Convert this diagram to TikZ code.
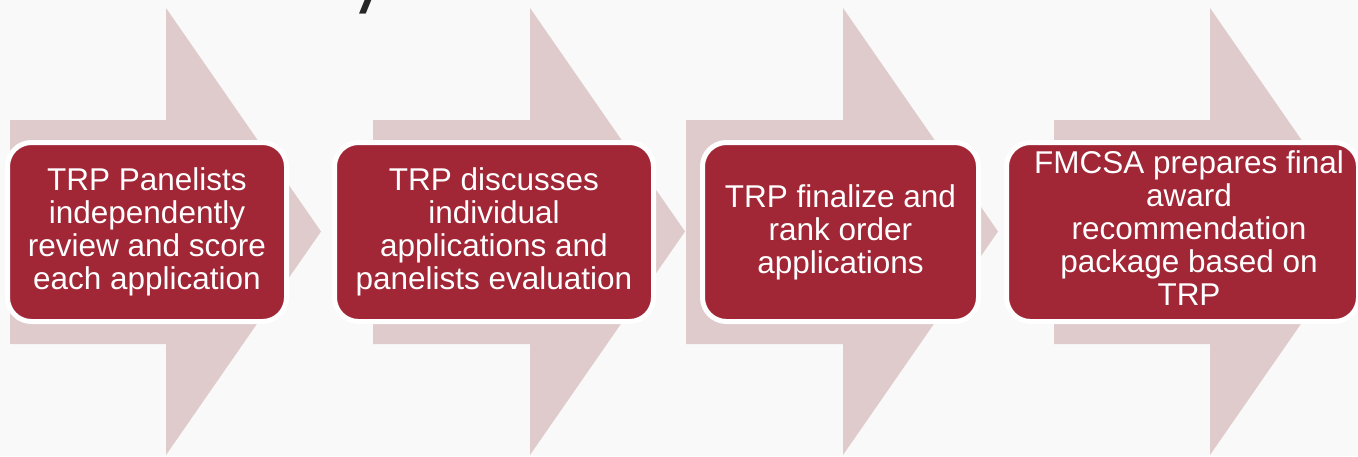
\documentclass[tikz,border=0pt]{standalone}
\usepackage{fontspec}
\setmainfont{Liberation Sans}
\newfontfamily\titlefont{Poppins}
\definecolor{bg}{RGB}{249,249,249}
\definecolor{arrowpink}{RGB}{223,203,204}
\definecolor{boxred}{RGB}{161,38,54}
\definecolor{titlegray}{RGB}{38,38,38}
\tikzset{
  bigarrow/.style={fill=arrowpink, draw=none},
  stepbox/.style={rectangle, rounded corners=24pt, fill=boxred, draw=white, line width=5pt, minimum height=179pt, inner sep=0pt},
  steptext/.style={text=white, align=center, font=\fontsize{31.5}{33}\selectfont, inner sep=0pt},
}
\begin{document}
\begin{tikzpicture}[x=1pt,y=-1pt]
\useasboundingbox (0,0) rectangle (1358,456);
\clip (0,0) rectangle (1358,456);
\fill[bg] (0,0) rectangle (1358,456);
% fragment of the slide title
\node[font=\titlefont\fontsize{72}{72}\selectfont, text=titlegray, anchor=south west, inner sep=0pt] (title) at (350,14) {y};
% big background arrows
\foreach \L/\H in {10/166, 373/530, 686/843, 1054/1210}{
  \fill[bigarrow] (\L,120) -- (\H,120) -- (\H,8) -- ({\H+155},231.5) -- (\H,455) -- (\H,344) -- (\L,344) -- cycle;
}
% step boxes
\node[stepbox, minimum width=279pt] (b1) at (147,232) {};
\node[stepbox, minimum width=319pt] (b2) at (494,232) {};
\node[stepbox, minimum width=276pt] (b3) at (840.5,232) {};
\node[stepbox, minimum width=352pt] (b4) at (1182.5,232) {};
% texts
\node[steptext] (t1) at (147,232) {TRP Panelists\\independently\\review and score\\each application};
\node[steptext] (t2) at (494,232) {TRP discusses\\individual\\applications and\\panelists evaluation};
\node[steptext] (t3) at (840.5,232) {TRP finalize and\\rank order\\applications};
\node[steptext] (t4) at (1189,228) {FMCSA prepares final\\award\\recommendation\\package based on\\TRP};
\end{tikzpicture}
\end{document}
